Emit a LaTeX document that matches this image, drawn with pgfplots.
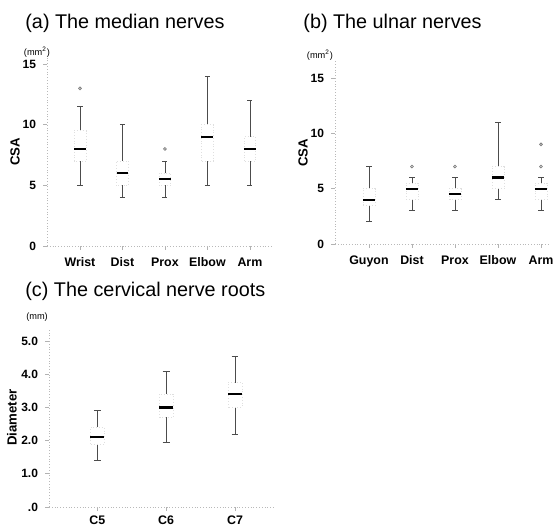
\documentclass[border=0pt]{standalone}
\usepackage{fontspec}
\setmainfont{Liberation Sans}
\usepackage{pgfplots}
\pgfplotsset{compat=1.18}
\usepgfplotslibrary{statistics}
\pgfplotsset{
  nerve/.style={
    scale only axis,
    enlargelimits=false,
    clip=false,
    axis x line*=bottom, axis y line*=left,
    axis line style={gray!55, densely dotted},
    tick style={gray!60, thin, solid},
    tick align=outside, major tick length=2pt,
    xticklabel style={font=\fontsize{6.2}{7}\selectfont\bfseries, text height=4.6pt, text depth=1.3pt, yshift=0pt},
    yticklabel style={font=\fontsize{6}{7}\selectfont\bfseries},
    /pgf/number format/assume math mode=true,
    ylabelshift/.initial=-16pt,
    every axis y label/.style={at={(rel axis cs:0,0.5)}, xshift=\pgfkeysvalueof{/pgfplots/ylabelshift}, rotate=90, anchor=center, font=\fontsize{6.6}{7}\selectfont\bfseries},
    boxplot/draw direction=y,
    boxplot/box extend=0.28,
    boxplot/whisker extend=0.12,
    boxplot/every box/.style={draw=gray!25, densely dotted, thin},
    boxplot/every median/.style={black, line width=1.1pt, solid},
    boxplot/every whisker/.style={black!70, thin},
  },
  bx/.style={black, mark=o, mark size=0.7pt, mark options={gray, thin, solid}},
}
\begin{document}
\begin{tikzpicture}
\useasboundingbox (0,0) rectangle (277.5pt,264.5pt);
% titles
\node[anchor=west, inner sep=0pt, font=\fontsize{9.9}{10}\selectfont] at (12.5pt,253pt) {(a) The median nerves};
\node[anchor=west, inner sep=0pt, font=\fontsize{9.9}{10}\selectfont] at (151.5pt,253pt) {(b) The ulnar nerves};
\node[anchor=west, inner sep=0pt, font=\fontsize{9.9}{10}\selectfont] at (12.5pt,119pt) {(c) The cervical nerve roots};

% (a)
\begin{axis}[nerve, at={(23.5pt,141.5pt)}, anchor=south west,
  width=112.5pt, height=94pt,
  xmin=-0.776, xmax=4.52, ymin=0, ymax=15.5,
  xtick={0,1,2,3,4}, xticklabels={Wrist,Dist,Prox,Elbow,Arm},
  ytick={0,5,10,15}, ylabel={CSA}]
\addplot[bx, boxplot prepared={draw position=0, lower whisker=5, lower quartile=7, median=8, upper quartile=9.5, upper whisker=11.5}] coordinates {(0,13)};
\addplot[bx, boxplot prepared={draw position=1, lower whisker=4, lower quartile=5, median=6, upper quartile=7, upper whisker=10}] coordinates {};
\addplot[bx, boxplot prepared={draw position=2, lower whisker=4, lower quartile=5, median=5.5, upper quartile=6, upper whisker=7}] coordinates {(0,8)};
\addplot[bx, boxplot prepared={draw position=3, lower whisker=5, lower quartile=7, median=9, upper quartile=10, upper whisker=14}] coordinates {};
\addplot[bx, boxplot prepared={draw position=4, lower whisker=5, lower quartile=7, median=8, upper quartile=9, upper whisker=12}] coordinates {};
\node[font=\fontsize{4.6}{5}\selectfont, inner sep=0pt] at (rel axis cs:0,1) [xshift=-5pt, yshift=3pt] {(mm\textsuperscript{2})};
\end{axis}

% (b)
\begin{axis}[nerve, at={(167.5pt,142.5pt)}, anchor=south west,
  width=107.5pt, height=91.3pt,
  xmin=-0.79, xmax=4.21, ymin=0, ymax=16.5,
  xtick={0,1,2,3,4}, xticklabels={Guyon,Dist,Prox,Elbow,Arm},
  ytick={0,5,10,15}, ylabel={CSA}]
\addplot[bx, boxplot prepared={draw position=0, lower whisker=2, lower quartile=3.5, median=4, upper quartile=5, upper whisker=7}] coordinates {};
\addplot[bx, boxplot prepared={draw position=1, lower whisker=3, lower quartile=4, median=5, upper quartile=5.5, upper whisker=6}] coordinates {(0,7)};
\addplot[bx, boxplot prepared={draw position=2, lower whisker=3, lower quartile=4, median=4.5, upper quartile=5, upper whisker=6}] coordinates {(0,7)};
\addplot[bx, boxplot prepared={draw position=3, lower whisker=4, lower quartile=5, median=6, upper quartile=7, upper whisker=11}] coordinates {};
\addplot[bx, boxplot prepared={draw position=4, lower whisker=3, lower quartile=4, median=5, upper quartile=5.5, upper whisker=6}] coordinates {(0,7) (0,9)};
\node[font=\fontsize{4.6}{5}\selectfont, inner sep=0pt] at (rel axis cs:0,1) [xshift=-7.5pt, yshift=3pt] {(mm\textsuperscript{2})};
\end{axis}

% (c)
\begin{axis}[nerve, at={(24.5pt,11pt)}, anchor=south west,
  width=113pt, height=89.6pt,
  xmin=-0.70, xmax=2.58, ymin=0, ymax=5.4,
  xtick={0,1,2}, xticklabels={C5,C6,C7},
  xticklabel style={yshift=1.5pt},
  ytick={0,1,2,3,4,5}, yticklabels={.0,1.0,2.0,3.0,4.0,5.0},
  ylabel={Diameter}, ylabelshift=-18.5pt,
  boxplot/box extend=0.2, boxplot/whisker extend=0.1]
\addplot[bx, boxplot prepared={draw position=0, lower whisker=1.4, lower quartile=1.9, median=2.1, upper quartile=2.4, upper whisker=2.9}] coordinates {};
\addplot[bx, boxplot prepared={draw position=1, lower whisker=1.95, lower quartile=2.7, median=3.0, upper quartile=3.4, upper whisker=4.1}] coordinates {};
\addplot[bx, boxplot prepared={draw position=2, lower whisker=2.2, lower quartile=3.0, median=3.4, upper quartile=3.75, upper whisker=4.55}] coordinates {};
\node[font=\fontsize{4.6}{5}\selectfont, inner sep=0pt] at (rel axis cs:0,1) [xshift=-6pt, yshift=5.5pt] {(mm)};
\end{axis}
\end{tikzpicture}
\end{document}
